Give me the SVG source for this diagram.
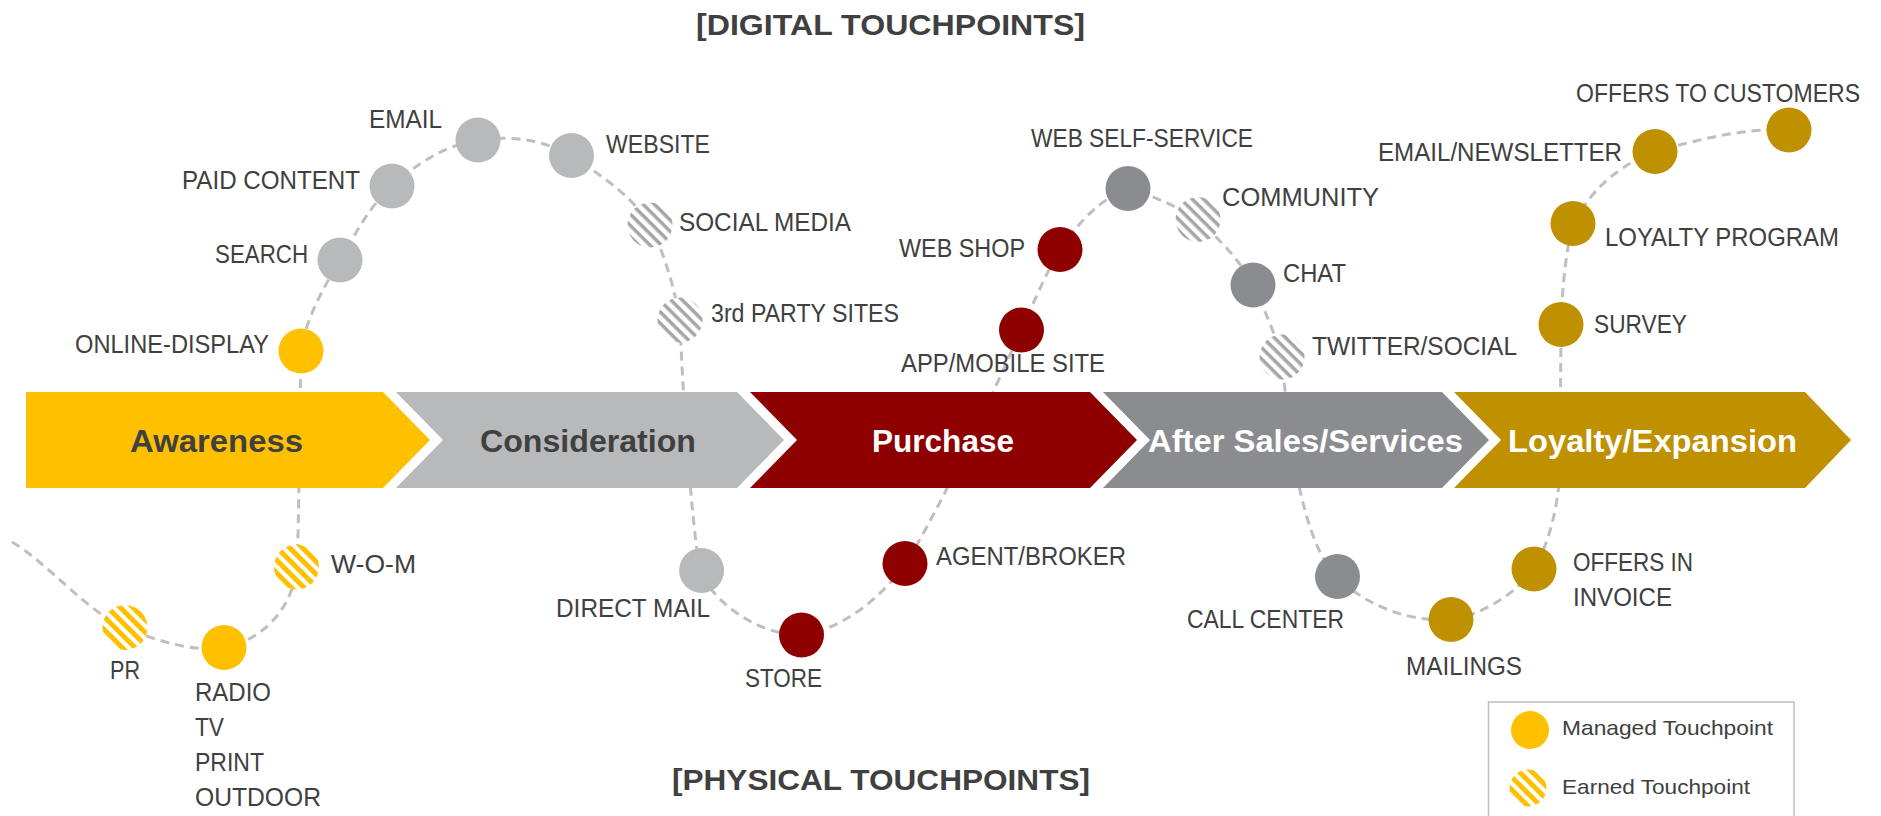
<svg xmlns="http://www.w3.org/2000/svg" width="1881" height="816" viewBox="0 0 1881 816">
<style>
.lbl{font-family:"Liberation Sans",Arial,sans-serif;font-size:25px;fill:#404040}
.ttl{font-family:"Liberation Sans",Arial,sans-serif;font-size:30px;font-weight:bold;fill:#404040}
.stg{font-family:"Liberation Sans",Arial,sans-serif;font-size:32px;font-weight:bold}
.dk{fill:#404040}.wt{fill:#ffffff}
.leg{font-family:"Liberation Sans",Arial,sans-serif;font-size:21px;fill:#404040}
.conn{fill:none;stroke:#BFBFBF;stroke-width:3;stroke-dasharray:9 6}
.y{fill:#FFC000}.lg{fill:#B8B9BB}.rd{fill:#8E0000}.gy{fill:#8B8C90}.gd{fill:#BF9000}
.sy{fill:url(#stripeY)}.sg{fill:url(#stripeG)}
</style>
<defs>
<pattern id="stripeY" width="9" height="9" patternUnits="userSpaceOnUse" patternTransform="rotate(45)">
<rect width="9" height="9" fill="#ffffff"/><rect width="9" height="5" fill="#FFC000"/>
</pattern>
<pattern id="stripeG" width="8" height="8" patternUnits="userSpaceOnUse" patternTransform="rotate(45)">
<rect width="8" height="8" fill="#ffffff"/><rect width="8" height="3.5" fill="#A6A6A6"/>
</pattern>
</defs>
<rect width="1881" height="816" fill="#ffffff"/>

<g id="connectors">
<path class="conn" d="M 12,542 C 50,565 85,610 125,628 C 160,642 195,652 224,648 C 262,640 292,610 297,567 C 299,520 300,400 301,351 C 305,320 325,285 340,260 C 355,235 370,205 392,186 C 415,165 445,145 478,140 C 510,135 545,140 571,156 C 605,177 635,200 650,225 C 665,255 675,290 680,321 C 682,380 690,510 700,571 C 715,605 760,635 801,635 C 840,630 880,600 905,564 C 940,510 990,400 1021,330 C 1035,300 1045,275 1060,250 C 1080,220 1100,200 1128,188 C 1150,195 1175,205 1198,220 C 1220,240 1240,260 1253,285 C 1265,310 1275,335 1282,357 C 1288,430 1300,540 1337,577 C 1360,600 1400,622 1451,620 C 1480,615 1515,595 1534,569 C 1548,545 1558,510 1560,470 L 1561,324 C 1562,290 1566,250 1573,223 C 1590,196 1606,172 1655,151 C 1700,140 1740,128 1789,130"/>
</g>

<g id="titles">
<text class="ttl" x="696" y="35" textLength="389" lengthAdjust="spacingAndGlyphs">[DIGITAL TOUCHPOINTS]</text>
<text class="ttl" x="672" y="790" textLength="418" lengthAdjust="spacingAndGlyphs">[PHYSICAL TOUCHPOINTS]</text>
</g>

<g id="stage-awareness">
<polygon class="y" points="26,392 383,392 430,440 383,488 26,488"/>
<text class="stg dk" x="130" y="452" textLength="173" lengthAdjust="spacingAndGlyphs">Awareness</text>
</g>
<g id="stage-consideration">
<polygon class="lg" points="396,392 737,392 784,440 737,488 396,488 443,440"/>
<text class="stg dk" x="480" y="452" textLength="216" lengthAdjust="spacingAndGlyphs">Consideration</text>
</g>
<g id="stage-purchase">
<polygon class="rd" points="750,392 1090,392 1137,440 1090,488 750,488 797,440"/>
<text class="stg wt" x="872" y="452" textLength="142" lengthAdjust="spacingAndGlyphs">Purchase</text>
</g>
<g id="stage-aftersales">
<polygon class="gy" points="1103,392 1442,392 1489,440 1442,488 1103,488 1150,440"/>
<text class="stg wt" x="1148" y="452" textLength="315" lengthAdjust="spacingAndGlyphs">After Sales/Services</text>
</g>
<g id="stage-loyalty">
<polygon class="gd" points="1454,392 1805,392 1851,440 1805,488 1454,488 1501,440"/>
<text class="stg wt" x="1508" y="452" textLength="289" lengthAdjust="spacingAndGlyphs">Loyalty/Expansion</text>
</g>

<g id="n-online-display"><circle class="y" cx="301" cy="351" r="22.5"/><text class="lbl" x="75" y="353" textLength="194" lengthAdjust="spacingAndGlyphs">ONLINE-DISPLAY</text></g>
<g id="n-search"><circle class="lg" cx="340" cy="260" r="22.5"/><text class="lbl" x="215" y="263" textLength="93" lengthAdjust="spacingAndGlyphs">SEARCH</text></g>
<g id="n-paid-content"><circle class="lg" cx="392" cy="186" r="22.5"/><text class="lbl" x="182" y="189" textLength="178" lengthAdjust="spacingAndGlyphs">PAID CONTENT</text></g>
<g id="n-email"><circle class="lg" cx="478" cy="140" r="22.5"/><text class="lbl" x="369" y="128" textLength="73" lengthAdjust="spacingAndGlyphs">EMAIL</text></g>
<g id="n-website"><circle class="lg" cx="571.5" cy="155.5" r="22.5"/><text class="lbl" x="606" y="153" textLength="104" lengthAdjust="spacingAndGlyphs">WEBSITE</text></g>
<g id="n-social-media"><circle class="sg" cx="650" cy="225" r="22.5"/><text class="lbl" x="679" y="231" textLength="172" lengthAdjust="spacingAndGlyphs">SOCIAL MEDIA</text></g>
<g id="n-3rd-party"><circle class="sg" cx="680" cy="320" r="22.5"/><text class="lbl" x="711" y="322" textLength="188" lengthAdjust="spacingAndGlyphs">3rd PARTY SITES</text></g>
<g id="n-web-shop"><circle class="rd" cx="1060" cy="249.5" r="22.5"/><text class="lbl" x="899" y="257" textLength="126" lengthAdjust="spacingAndGlyphs">WEB SHOP</text></g>
<g id="n-app-mobile"><circle class="rd" cx="1021.5" cy="330" r="22.5"/><text class="lbl" x="901" y="372" textLength="204" lengthAdjust="spacingAndGlyphs">APP/MOBILE SITE</text></g>
<g id="n-web-self-service"><circle class="gy" cx="1128" cy="188.5" r="22.5"/><text class="lbl" x="1031" y="147" textLength="222" lengthAdjust="spacingAndGlyphs">WEB SELF-SERVICE</text></g>
<g id="n-community"><circle class="sg" cx="1198" cy="219.5" r="22.5"/><text class="lbl" x="1222" y="206" textLength="157" lengthAdjust="spacingAndGlyphs">COMMUNITY</text></g>
<g id="n-chat"><circle class="gy" cx="1253" cy="285" r="22.5"/><text class="lbl" x="1283" y="282" textLength="63" lengthAdjust="spacingAndGlyphs">CHAT</text></g>
<g id="n-twitter"><circle class="sg" cx="1282" cy="357" r="22.5"/><text class="lbl" x="1312" y="355" textLength="205" lengthAdjust="spacingAndGlyphs">TWITTER/SOCIAL</text></g>
<g id="n-offers-customers"><circle class="gd" cx="1789" cy="130" r="22.5"/><text class="lbl" x="1576" y="102" textLength="284" lengthAdjust="spacingAndGlyphs">OFFERS TO CUSTOMERS</text></g>
<g id="n-email-newsletter"><circle class="gd" cx="1655" cy="151.5" r="22.5"/><text class="lbl" x="1378" y="161" textLength="244" lengthAdjust="spacingAndGlyphs">EMAIL/NEWSLETTER</text></g>
<g id="n-loyalty-program"><circle class="gd" cx="1573" cy="223.5" r="22.5"/><text class="lbl" x="1605" y="246" textLength="234" lengthAdjust="spacingAndGlyphs">LOYALTY PROGRAM</text></g>
<g id="n-survey"><circle class="gd" cx="1561" cy="324.5" r="22.5"/><text class="lbl" x="1594" y="333" textLength="93" lengthAdjust="spacingAndGlyphs">SURVEY</text></g>

<g id="n-pr"><circle class="sy" cx="125" cy="627.5" r="22.5"/><text class="lbl" x="110" y="679" textLength="30" lengthAdjust="spacingAndGlyphs">PR</text></g>
<g id="n-radio-tv"><circle class="y" cx="224" cy="647.5" r="22.5"/>
<text class="lbl" x="195" y="701" textLength="76" lengthAdjust="spacingAndGlyphs">RADIO</text>
<text class="lbl" x="195" y="736" textLength="29" lengthAdjust="spacingAndGlyphs">TV</text>
<text class="lbl" x="195" y="771" textLength="69" lengthAdjust="spacingAndGlyphs">PRINT</text>
<text class="lbl" x="195" y="806" textLength="126" lengthAdjust="spacingAndGlyphs">OUTDOOR</text></g>
<g id="n-wom"><circle class="sy" cx="296.5" cy="567" r="22.5"/><text class="lbl" x="331" y="573" textLength="85" lengthAdjust="spacingAndGlyphs">W-O-M</text></g>
<g id="n-direct-mail"><circle class="lg" cx="701.6" cy="570.5" r="22.5"/><text class="lbl" x="556" y="617" textLength="154" lengthAdjust="spacingAndGlyphs">DIRECT MAIL</text></g>
<g id="n-store"><circle class="rd" cx="801.5" cy="635" r="22.5"/><text class="lbl" x="745" y="687" textLength="77" lengthAdjust="spacingAndGlyphs">STORE</text></g>
<g id="n-agent-broker"><circle class="rd" cx="905" cy="563.5" r="22.5"/><text class="lbl" x="936" y="565" textLength="190" lengthAdjust="spacingAndGlyphs">AGENT/BROKER</text></g>
<g id="n-call-center"><circle class="gy" cx="1337.5" cy="576.5" r="22.5"/><text class="lbl" x="1187" y="628" textLength="157" lengthAdjust="spacingAndGlyphs">CALL CENTER</text></g>
<g id="n-mailings"><circle class="gd" cx="1451" cy="619.5" r="22.5"/><text class="lbl" x="1406" y="675" textLength="116" lengthAdjust="spacingAndGlyphs">MAILINGS</text></g>
<g id="n-offers-invoice"><circle class="gd" cx="1534" cy="569" r="22.5"/>
<text class="lbl" x="1573" y="571" textLength="120" lengthAdjust="spacingAndGlyphs">OFFERS IN</text>
<text class="lbl" x="1573" y="606" textLength="99" lengthAdjust="spacingAndGlyphs">INVOICE</text></g>

<g id="legend">
<rect x="1488.5" y="702" width="305.5" height="130" fill="none" stroke="#BFBFBF" stroke-width="1.5"/>
<circle class="y" cx="1530" cy="730" r="19"/>
<text class="leg" x="1562" y="735" textLength="211" lengthAdjust="spacingAndGlyphs">Managed Touchpoint</text>
<circle class="sy" cx="1528" cy="788" r="18.5"/>
<text class="leg" x="1562" y="794" textLength="188" lengthAdjust="spacingAndGlyphs">Earned Touchpoint</text>
</g>
</svg>
